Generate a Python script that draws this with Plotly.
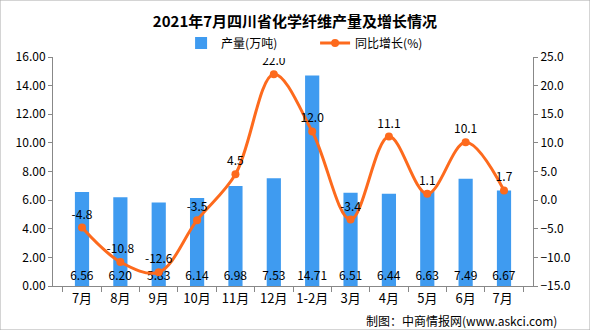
import plotly.graph_objects as go

categories = ["7月", "8月", "9月", "10月", "11月", "12月", "1-2月", "3月", "4月", "5月", "6月", "7月 "]
output_values = [6.56, 6.20, 5.83, 6.14, 6.98, 7.53, 14.71, 6.51, 6.44, 6.63, 7.49, 6.67]
growth_values = [-4.8, -10.8, -12.6, -3.5, 4.5, 22.0, 12.0, -3.4, 11.1, 1.1, 10.1, 1.7]

FONT = "Noto Sans CJK SC, sans-serif"
BAR = "#3f9bf0"
LINE = "#fd6a1d"

fig = go.Figure()
fig.add_trace(go.Bar(
    x=categories, y=output_values, name="产量(万吨)",
    marker=dict(color=BAR, line=dict(width=0)), width=0.37,
    text=[f"{v:.2f}" for v in output_values], textposition="inside",
    insidetextanchor="start", constraintext="none",
    textfont=dict(color="#000000", size=12, family=FONT),
    textangle=0, cliponaxis=False,
))
fig.add_trace(go.Scatter(
    x=categories, y=growth_values, name="同比增长(%)", yaxis="y2",
    mode="lines+markers+text", line=dict(color=LINE, width=3, shape="spline", smoothing=1.0),
    marker=dict(color=LINE, size=8),
    text=[f"{v:.1f}" for v in growth_values], textposition="top center",
    textfont=dict(color="#000000", size=12, family=FONT), cliponaxis=False,
))

fig.update_layout(
    width=590, height=330,
    margin=dict(l=53, r=57, t=57, b=44, autoexpand=False),
    paper_bgcolor="white", plot_bgcolor="white",
    font=dict(family=FONT, size=12, color="#000000"),
    title=dict(text="<b>2021年7月四川省化学纤维产量及增长情况</b>", x=0.5, xanchor="center",
               y=1 - 22 / 330, yref="container", yanchor="middle",
               font=dict(size=15, family="Noto Sans CJK SC, serif", color="#000000")),
    legend=dict(orientation="h", x=0.546, xanchor="center", y=1 + 14 / 229, yref="paper",
                yanchor="middle", font=dict(size=12), traceorder="normal",
                entrywidth=89, entrywidthmode="pixels", itemwidth=30),
    uniformtext=dict(minsize=12, mode="show"),
    showlegend=True,
    xaxis=dict(showline=True, linecolor="#888888", ticks="outside", tickcolor="#888888", ticklen=5,
               tickson="boundaries", tickfont=dict(size=13), tickangle=0, showgrid=False),
    yaxis=dict(range=[0, 16], dtick=2, tickformat=".2f", showline=True, linecolor="#888888",
               ticks="outside", tickcolor="#888888", ticklen=4, showgrid=False, zeroline=False,
               tickfont=dict(size=12)),
    yaxis2=dict(range=[-15, 25], dtick=5, tickformat=".1f", overlaying="y", side="right",
                showline=True, linecolor="#888888", ticks="outside", tickcolor="#888888", ticklen=4,
                showgrid=False, zeroline=False, tickfont=dict(size=12)),
    annotations=[dict(text="制图：中商情报网(www.askci.com)", xref="paper", yref="paper",
                      x=0.85, y=-34 / 229, xanchor="center", yanchor="middle", showarrow=False,
                      font=dict(size=12, family=FONT, color="#000000"))],
    shapes=[dict(type="rect", xref="paper", yref="paper", x0=-53 / 480, x1=1 + 57 / 480,
                 y0=-44 / 229, y1=1 + 57 / 229, line=dict(color="#aaaaaa", width=1))],
)

fig.write_html("out.html")
